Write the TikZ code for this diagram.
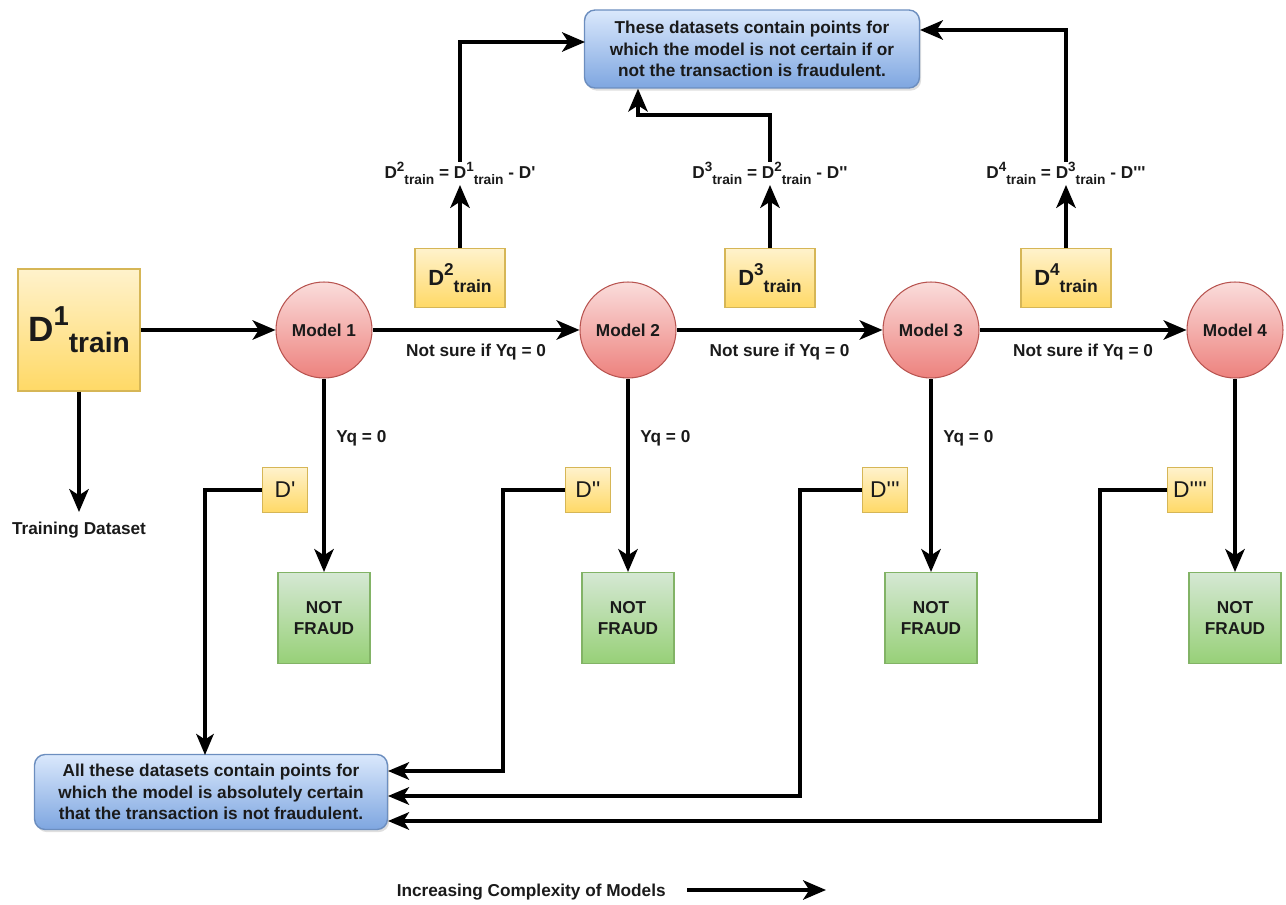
\documentclass[tikz,border=0pt]{standalone}
\usepackage{fontspec}
\usepackage{graphicx}
\setmainfont{Liberation Sans}
\usetikzlibrary{arrows.meta,calc,shadows}
\newcommand{\Dtr}[1]{D\raisebox{0.45em}{\scalebox{0.78}{#1}}\raisebox{-0.32em}{\scalebox{0.8}{train}}}
\newcommand{\pq}{\textquotesingle}
\definecolor{ybord}{HTML}{D6B656}
\definecolor{ytop}{HTML}{FFF2CC}
\definecolor{ybot}{HTML}{FFD966}
\definecolor{rbord}{HTML}{B85450}
\definecolor{rtop}{HTML}{F8CECC}
\definecolor{rbot}{HTML}{EA6B66}
\definecolor{gbord}{HTML}{82B366}
\definecolor{gtop}{HTML}{D5E8D4}
\definecolor{gbot}{HTML}{97D077}
\definecolor{bbord}{HTML}{6C8EBF}
\definecolor{btop}{HTML}{DAE8FC}
\definecolor{bbot}{HTML}{7EA6E0}
\definecolor{txt}{HTML}{1A1A1A}
\begin{document}
\begin{tikzpicture}[x=0.02cm,y=-0.02cm,
  every node/.style={font=\fontsize{9.8}{12.3}\selectfont\bfseries, text=txt, inner sep=0pt},
  arr/.style={line width=2.2pt, -{Stealth[length=13pt,width=11pt,inset=3.5pt]}},
  thin arr/.style={line width=1.9pt, -{Stealth[length=12pt,width=10pt,inset=3.2pt]}},
  ybox/.style={draw=ybord, line width=0.6pt, top color=ytop, bottom color=ybot, rectangle},
  model/.style={circle, draw=rbord, line width=0.6pt, top color=rtop!70, bottom color=rbot!85, minimum size=1.92cm},
  nfbox/.style={rectangle, draw=gbord, line width=0.6pt, top color=gtop, bottom color=gbot, minimum width=1.84cm, minimum height=1.82cm, align=center},
  dbox/.style={ybox, minimum width=0.9cm, minimum height=0.9cm, font=\fontsize{13}{15}\selectfont},
  dtbox/.style={ybox, minimum width=1.8cm, minimum height=1.18cm, font=\fontsize{12.5}{15}\selectfont\bfseries},
  bluebox/.style={rectangle, rounded corners=6pt, draw=bbord, line width=0.8pt, top color=btop, bottom color=bbot, align=center, drop shadow={opacity=0.25, shadow xshift=1pt, shadow yshift=-1.5pt}},
  form/.style={font=\fontsize{9.8}{11}\selectfont\bfseries}
]
\useasboundingbox (0,0) rectangle (1286,905);

% main row
\node[ybox, minimum width=2.44cm, minimum height=2.44cm, font=\fontsize{20}{24}\selectfont\bfseries] (d1) at (79,330) {\Dtr{1}};
\node[model] (m1) at (324,330) {Model 1};
\node[model] (m2) at (628,330) {Model 2};
\node[model] (m3) at (931,330) {Model 3};
\node[model] (m4) at (1235,330) {Model 4};

\node (train) at (79,530) {Training Dataset};

% not fraud
\node[nfbox] (nf1) at (324,618) {NOT\\FRAUD};
\node[nfbox] (nf2) at (628,618) {NOT\\FRAUD};
\node[nfbox] (nf3) at (931,618) {NOT\\FRAUD};
\node[nfbox] (nf4) at (1235,618) {NOT\\FRAUD};

% D' boxes
\node[dbox] (dp1) at (285,490) {D\pq};
\node[dbox] (dp2) at (588,490) {D\pq\pq};
\node[dbox] (dp3) at (885,490) {D\pq\pq\pq};
\node[dbox] (dp4) at (1190,490) {D\pq\pq\pq\pq};

% D train boxes
\node[dtbox] (d2) at (460,278) {\Dtr{2}};
\node[dtbox] (d3) at (770,278) {\Dtr{3}};
\node[dtbox] (d4) at (1066,278) {\Dtr{4}};

% formulas
\node[form, anchor=south] (f2) at (460,185) {\Dtr{2} = \Dtr{1} - D\pq};
\node[form, anchor=south] (f3) at (770,185) {\Dtr{3} = \Dtr{2} - D\pq\pq};
\node[form, anchor=south] (f4) at (1066,185) {\Dtr{4} = \Dtr{3} - D\pq\pq\pq};

% blue boxes
\node[bluebox, minimum width=6.7cm, minimum height=1.56cm] (top) at (752,49) {These datasets contain points for\\which the model is not certain if or\\not the transaction is fraudulent.};
\node[bluebox, minimum width=7.06cm, minimum height=1.5cm] (bot) at (211,792) {All these datasets contain points for\\which the model is absolutely certain\\that the transaction is not fraudulent.};

% bottom label
\node[anchor=east] (inc) at (666,892) {Increasing Complexity of Models};
\coordinate (ia) at (687,890);
\coordinate (ib) at (826,890);
\draw[arr] (ia) -- (ib);

% connectors main row
\draw[arr] (d1) -- (m1);
\draw[arr] (m1) -- node[below=7pt] {Not sure if Yq = 0} (m2);
\draw[arr] (m2) -- node[below=7pt] {Not sure if Yq = 0} (m3);
\draw[arr] (m3) -- node[below=7pt] {Not sure if Yq = 0} (m4);
\coordinate (tr) at (79,512);
\draw[arr] (d1.south) -- (tr);

\draw[arr] (m1) -- node[pos=0.31, right=6pt] {Yq = 0} (nf1);
\draw[arr] (m2) -- node[pos=0.31, right=6pt] {Yq = 0} (nf2);
\draw[arr] (m3) -- node[pos=0.31, right=6pt] {Yq = 0} (nf3);
\draw[arr] (m4) -- (nf4);

% D train up
\draw[arr] (d2) -- (f2);
\draw[arr] (d3) -- (f3);
\draw[arr] (d4) -- (f4);

% to top box
\coordinate (t2) at (585,42);
\draw[arr] (f2.north) |- (t2);
\coordinate (t3) at (638,115);
\draw[arr] (f3.north) |- (t3) -- (t3 |- top.south);
\coordinate (t4) at (920,30);
\draw[arr] (f4.north) |- (t4);

% to bottom box
\coordinate (b1) at (205,755);
\draw[thin arr] (dp1.west) -| (b1);
\coordinate (c2) at (503,771);
\coordinate (e2) at (388,771);
\draw[thin arr] (dp2.west) -| (c2) -- (e2);
\coordinate (c3) at (800,796);
\coordinate (e3) at (388,796);
\draw[thin arr] (dp3.west) -| (c3) -- (e3);
\coordinate (c4) at (1100,821);
\coordinate (e4) at (388,821);
\draw[thin arr] (dp4.west) -| (c4) -- (e4);
\end{tikzpicture}
\end{document}
